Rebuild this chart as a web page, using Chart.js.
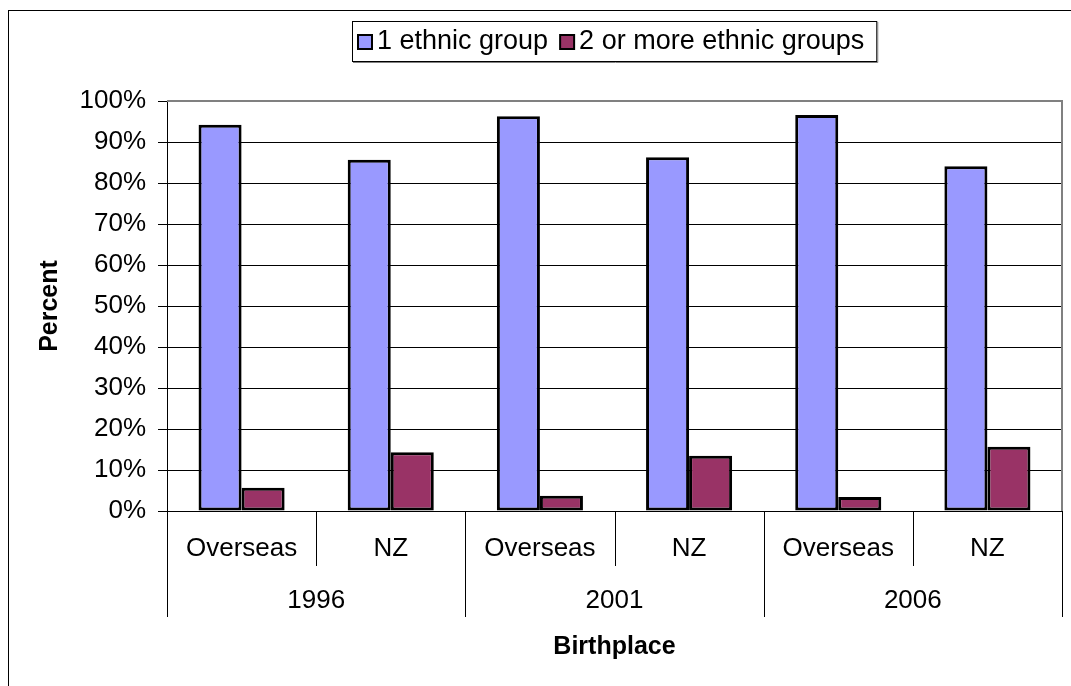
<!DOCTYPE html>
<html>
<head>
<meta charset="utf-8">
<title>Ethnic groups by birthplace</title>
<script src="https://cdn.jsdelivr.net/npm/chart.js@4.4.0/dist/chart.umd.min.js"></script>
<style>
  html, body { margin: 0; padding: 0; background: #fff; }
  canvas { display: block; }
</style>
</head>
<body>
<canvas id="chart" width="1071" height="686"></canvas>
<script>
// census years and birthplace groups (two-level x axis)
const years = ['1996', '2001', '2006'];
const birthplaces = ['Overseas', 'NZ'];

// percent of people reporting one / several ethnic groups
const oneGroup = [94.2, 85.7, 96.3, 86.3, 96.6, 84.1];
const twoOrMore = [5.7, 14.3, 3.7, 13.5, 3.4, 15.7];

const seriesNames = ['1 ethnic group', '2 or more ethnic groups'];
const seriesColors = ['#9999FF', '#993366'];

const FONT = '"Liberation Sans", Arial, sans-serif';

const categories = [];
years.forEach(y => birthplaces.forEach(b => categories.push(b + ' ' + y)));

// frame, grouped axis labels and the boxed legend
const decorations = {
  id: 'decorations',
  afterDraw(chart) {
    const ctx = chart.ctx;
    const area = chart.chartArea;
    const x = chart.scales.x;
    ctx.save();

    // outer frame
    ctx.strokeStyle = '#000';
    ctx.lineWidth = 1;
    ctx.strokeRect(8.5, 10.5, 1200, 800);

    // grey plot border on top and right
    ctx.strokeStyle = '#808080';
    ctx.lineWidth = 2;
    ctx.beginPath();
    ctx.moveTo(area.left, area.top);
    ctx.lineTo(area.right, area.top);
    ctx.lineTo(area.right, area.bottom);
    ctx.stroke();

    // separators under the axis
    const half = (x.getPixelForValue(1) - x.getPixelForValue(0)) / 2;
    const start = x.getPixelForValue(0) - half;
    ctx.strokeStyle = '#000';
    ctx.lineWidth = 1;
    for (let j = 0; j <= categories.length; j++) {
      const px = Math.round(start + j * 2 * half) + 0.5;
      const len = j % birthplaces.length === 0 ? 106 : 55;
      ctx.beginPath();
      ctx.moveTo(px, area.bottom);
      ctx.lineTo(px, area.bottom + len);
      ctx.stroke();
    }

    ctx.fillStyle = '#000';
    ctx.textAlign = 'center';
    ctx.textBaseline = 'middle';
    ctx.font = '26px ' + FONT;
    categories.forEach((c, i) => {
      ctx.fillText(birthplaces[i % birthplaces.length], x.getPixelForValue(i), area.bottom + 38);
    });
    years.forEach((y, k) => {
      const a = x.getPixelForValue(k * birthplaces.length);
      const b = x.getPixelForValue(k * birthplaces.length + birthplaces.length - 1);
      ctx.fillText(y, (a + b) / 2, area.bottom + 90);
    });

    // legend
    ctx.font = '27px ' + FONT;
    ctx.textAlign = 'left';
    const boxLeft = 352, boxTop = 21, boxH = 40;
    let cx = boxLeft + 6;
    const cy = boxTop + boxH / 2 + 1;
    const items = chart.data.datasets.map(ds => {
      const item = { sq: cx, tx: cx + 19, ds };
      cx = item.tx + ctx.measureText(ds.label).width + 12;
      return item;
    });
    const boxRight = cx;
    ctx.strokeStyle = '#000';
    ctx.lineWidth = 1;
    ctx.strokeRect(boxLeft + 0.5, boxTop + 0.5, boxRight - boxLeft, boxH);
    // grey shadow edge on the right and bottom
    ctx.strokeStyle = '#808080';
    ctx.beginPath();
    ctx.moveTo(boxRight + 1.5, boxTop + 1);
    ctx.lineTo(boxRight + 1.5, boxTop + boxH + 1.5);
    ctx.lineTo(boxLeft + 1, boxTop + boxH + 1.5);
    ctx.stroke();
    items.forEach(it => {
      ctx.fillStyle = it.ds.backgroundColor;
      ctx.fillRect(it.sq, cy - 7, 14, 14);
      ctx.strokeStyle = '#000';
      ctx.lineWidth = 2;
      ctx.strokeRect(it.sq, cy - 7, 14, 14);
      ctx.fillStyle = '#000';
      ctx.fillText(it.ds.label, it.tx, cy);
    });

    ctx.restore();
  }
};

new Chart(document.getElementById('chart'), {
  type: 'bar',
  data: {
    labels: categories,
    datasets: [
      { label: seriesNames[0], data: oneGroup, backgroundColor: seriesColors[0] },
      { label: seriesNames[1], data: twoOrMore, backgroundColor: seriesColors[1] }
    ]
  },
  options: {
    responsive: false,
    animation: false,
    devicePixelRatio: 1,
    layout: { padding: { top: 101, right: 9, left: 0, bottom: 0 } },
    datasets: {
      bar: {
        borderColor: '#000',
        borderWidth: 3,
        borderSkipped: false,
        categoryPercentage: 0.577,
        barPercentage: 1.0
      }
    },
    plugins: {
      legend: { display: false },
      tooltip: { enabled: false }
    },
    scales: {
      x: {
        grid: { display: false },
        border: { color: '#000', width: 1 },
        ticks: { display: false },
        title: {
          display: true,
          text: 'Birthplace',
          color: '#000',
          font: { family: FONT, size: 25, weight: 'bold' },
          padding: { top: 0, bottom: 24 }
        },
        afterFit(scale) { scale.height = 175; }
      },
      y: {
        min: 0,
        max: 100,
        ticks: {
          stepSize: 10,
          padding: 12,
          color: '#000',
          font: { family: FONT, size: 26 },
          callback: v => v + '%'
        },
        grid: {
          color: ctx => ctx.tick && ctx.tick.value === 100 ? '#808080' : '#000',
          tickColor: '#000',
          tickLength: 9
        },
        border: { color: '#000', width: 1 },
        title: {
          display: true,
          text: 'Percent',
          color: '#000',
          font: { family: FONT, size: 25, weight: 'bold' },
          padding: { top: 35, bottom: 0 }
        },
        afterFit(scale) { scale.width = 167; }
      }
    }
  },
  plugins: [decorations]
});
</script>
</body>
</html>
